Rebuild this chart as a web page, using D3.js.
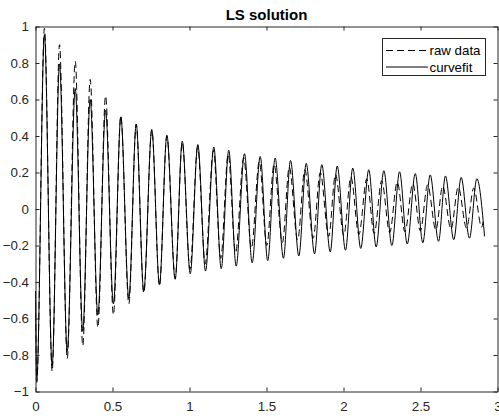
<!DOCTYPE html>
<html>
<head>
<meta charset="utf-8">
<script src="https://cdn.jsdelivr.net/npm/d3@7"></script>
<style>
  body { margin: 0; background: #fff; }
  text { font-family: "Liberation Sans", Arial, Helvetica, sans-serif; }
</style>
</head>
<body>
<div id="chart"></div>
<script>
// values: times (s) and values of each trough / peak

// curvefit
var fitTroughT = [0.008, 0.108, 0.206, 0.307, 0.405, 0.506, 0.606, 0.703, 0.805, 0.907,
  1.005, 1.104, 1.206, 1.303, 1.407, 1.508, 1.61, 1.71, 1.812, 1.914,
  2.013, 2.112, 2.212, 2.314, 2.414, 2.515, 2.617, 2.716, 2.818];
var fitTroughY = [-0.94, -0.86, -0.78, -0.67, -0.58, -0.52, -0.49, -0.45, -0.415, -0.385,
  -0.355, -0.34, -0.327, -0.313, -0.295, -0.283, -0.27, -0.257, -0.246, -0.235,
  -0.226, -0.216, -0.208, -0.2, -0.192, -0.185, -0.177, -0.168, -0.16];
var fitPeakT = [0.058, 0.156, 0.258, 0.355, 0.455, 0.554, 0.654, 0.755, 0.853, 0.953,
  1.054, 1.158, 1.255, 1.357, 1.459, 1.556, 1.656, 1.758, 1.859, 1.959,
  2.06, 2.164, 2.262, 2.364, 2.466, 2.563, 2.662, 2.764, 2.866];
var fitPeakY = [0.955, 0.795, 0.66, 0.6, 0.54, 0.505, 0.465, 0.435, 0.405, 0.372,
  0.353, 0.34, 0.322, 0.303, 0.288, 0.279, 0.266, 0.25, 0.243, 0.235,
  0.224, 0.215, 0.21, 0.204, 0.194, 0.187, 0.181, 0.173, 0.166];
var fitEnds = [[0, -0.45], [2.916, -0.15]];

// raw data
var rawTroughT = [0.008, 0.108, 0.206, 0.307, 0.405, 0.506, 0.606, 0.703, 0.805, 0.907,
  1.003, 1.102, 1.203, 1.299, 1.402, 1.502, 1.603, 1.702, 1.803, 1.904,
  2.002, 2.1, 2.199, 2.3, 2.399, 2.499, 2.6, 2.698, 2.799, 2.897];
var rawTroughY = [-0.95, -0.89, -0.82, -0.75, -0.65, -0.58, -0.52, -0.46, -0.42, -0.38,
  -0.33, -0.3, -0.27, -0.24, -0.215, -0.2, -0.185, -0.17, -0.16, -0.15,
  -0.145, -0.14, -0.135, -0.13, -0.125, -0.12, -0.115, -0.11, -0.105, -0.1];
var rawPeakT = [0.058, 0.156, 0.258, 0.355, 0.455, 0.554, 0.654, 0.755, 0.853, 0.953,
  1.053, 1.155, 1.251, 1.352, 1.453, 1.549, 1.648, 1.749, 1.849, 1.948,
  2.048, 2.151, 2.248, 2.349, 2.45, 2.546, 2.644, 2.745, 2.846];
var rawPeakY = [0.99, 0.9, 0.81, 0.71, 0.62, 0.51, 0.465, 0.435, 0.4, 0.365,
  0.34, 0.32, 0.3, 0.28, 0.26, 0.245, 0.23, 0.215, 0.2, 0.19,
  0.175, 0.165, 0.155, 0.148, 0.14, 0.132, 0.126, 0.12, 0.115];
var rawEnds = [[0, -0.45], [2.906, -0.07]];

var xTicks = [0, 0.5, 1, 1.5, 2, 2.5, 3];
var yTicks = [-1, -0.8, -0.6, -0.4, -0.2, 0, 0.2, 0.4, 0.6, 0.8, 1];
var legendNames = ["raw data", "curvefit"];

function buildSeries(tT, tY, pT, pY, ends) {
  var pts = ends.slice();
  tT.forEach(function(t, i) { pts.push([t, tY[i]]); });
  pT.forEach(function(t, i) { pts.push([t, pY[i]]); });
  return pts.sort(function(a, b) { return a[0] - b[0]; });
}
var rawData = buildSeries(rawTroughT, rawTroughY, rawPeakT, rawPeakY, rawEnds);
var fitData = buildSeries(fitTroughT, fitTroughY, fitPeakT, fitPeakY, fitEnds);

var W = 499, H = 418;
var axisCol = "#262626";

var svg = d3.select("#chart").append("svg")
  .attr("width", W)
  .attr("height", H);
svg.append("rect").attr("width", W).attr("height", H).attr("fill", "#fff");

var x = d3.scaleLinear().domain([0, 3]).range([35.5, 497.5]);
var y = d3.scaleLinear().domain([-1, 1]).range([391.5, 26.5]);

// lines
var line = d3.line()
  .x(function(d) { return x(d[0]); })
  .y(function(d) { return y(d[1]); })
  .curve(d3.curveMonotoneX);

svg.append("path")
  .datum(rawData)
  .attr("d", line)
  .attr("fill", "none")
  .attr("stroke", "#000")
  .attr("stroke-width", 1)
  .attr("stroke-dasharray", "7,4");

svg.append("path")
  .datum(fitData)
  .attr("d", line)
  .attr("fill", "none")
  .attr("stroke", "#000")
  .attr("stroke-width", 1);

// axes (ticks inside, box all round)
function styleAxis(g) {
  g.selectAll("path, line").attr("stroke", axisCol);
  g.selectAll("text")
    .attr("fill", axisCol)
    .style("font-size", "13.3px")
    .style("font-family", '"Liberation Sans", Arial, Helvetica, sans-serif');
}

svg.append("g")
  .attr("transform", "translate(0," + y(-1) + ")")
  .call(d3.axisBottom(x).tickValues(xTicks).tickSizeInner(-4).tickSizeOuter(0)
    .tickPadding(10.5).tickFormat(d3.format("")))
  .call(styleAxis);

svg.append("g")
  .attr("transform", "translate(0," + y(1) + ")")
  .call(d3.axisTop(x).tickValues(xTicks).tickSizeInner(-4).tickSizeOuter(0).tickFormat(""))
  .call(styleAxis);

svg.append("g")
  .attr("transform", "translate(" + x(0) + ",0)")
  .call(d3.axisLeft(y).tickValues(yTicks).tickSizeInner(-4).tickSizeOuter(0)
    .tickPadding(6.5).tickFormat(d3.format("")))
  .call(styleAxis);

svg.append("g")
  .attr("transform", "translate(" + x(3) + ",0)")
  .call(d3.axisRight(y).tickValues(yTicks).tickSizeInner(-4).tickSizeOuter(0).tickFormat(""))
  .call(styleAxis);

// title
svg.append("text")
  .attr("x", (x(0) + x(3)) / 2)
  .attr("y", 19.5)
  .attr("text-anchor", "middle")
  .attr("fill", "#000")
  .style("font-size", "15px")
  .style("font-weight", "bold")
  .text("LS solution");

// legend
var leg = svg.append("g");
leg.append("rect")
  .attr("x", 382.5).attr("y", 38.5)
  .attr("width", 103).attr("height", 37)
  .attr("fill", "#fff")
  .attr("stroke", axisCol);

legendNames.forEach(function(name, i) {
  var ly = 50.5 + i * 16.5;
  leg.append("line")
    .attr("x1", 386).attr("x2", 428)
    .attr("y1", ly).attr("y2", ly)
    .attr("stroke", "#000")
    .attr("stroke-dasharray", i === 0 ? "7,4" : null);
  leg.append("text")
    .attr("x", 429.5).attr("y", ly)
    .attr("dy", "0.35em")
    .attr("fill", "#000")
    .style("font-size", "13.3px")
    .text(name);
});
</script>
</body>
</html>
